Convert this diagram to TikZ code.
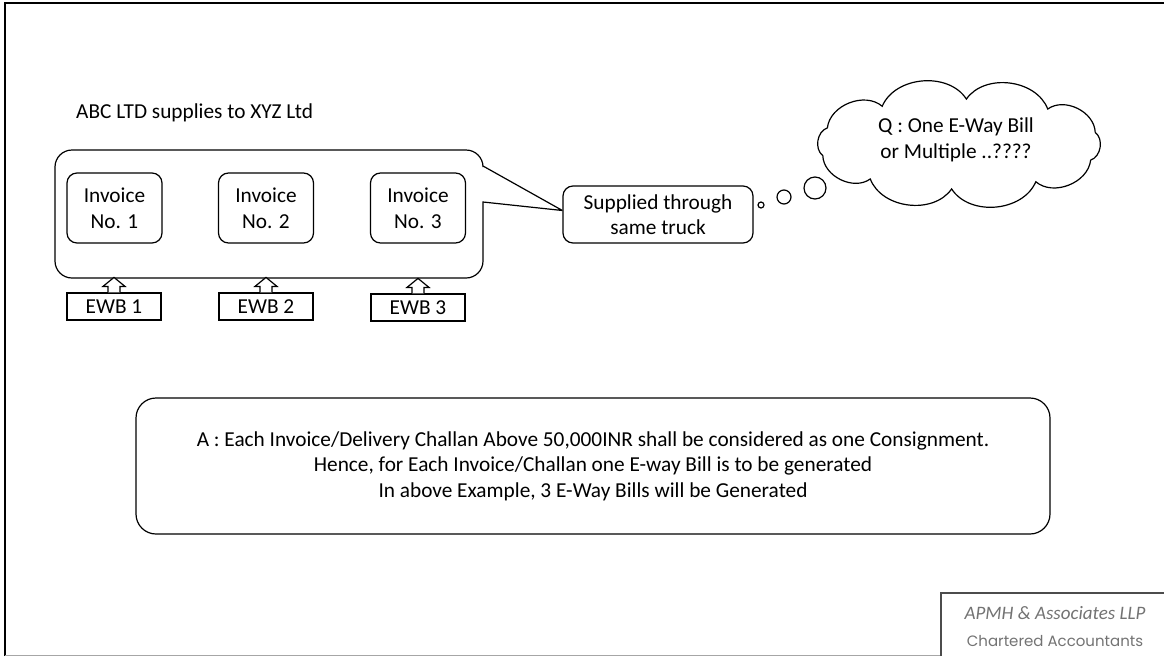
\documentclass[tikz,border=0pt]{standalone}
\usepackage{fontspec}
\setmainfont{Carlito}
\newfontfamily\logofont{Poppins}
\usetikzlibrary{calc}

\tikzset{
  base/.style={font=\fontsize{21.3}{25.6}\selectfont, align=center, inner sep=0pt},
  ln/.style={line width=1.2pt, black},
  invbox/.style={base, ln, draw, rounded corners=10pt, minimum width=95pt, minimum height=70pt},
  ewbbox/.style={base, ln, draw, minimum width=94pt, minimum height=27pt},
  bubble/.style={ln, draw, circle, inner sep=0pt},
}

% hollow block arrow from an EWB box up to the group frame
\newcommand\ewbarrow[1]{%
  \draw[ln, fill=white, line join=miter]
    ($(#1.north)+(-6,0)$) -- ++(0,-6) -- ++(-5,0) -- ($(#1.north)+(0,-15)$)
    -- ($(#1.north)+(11,-6)$) -- ++(-5,0) -- ($(#1.north)+(6,0)$);
}

\begin{document}
\begin{tikzpicture}[x=1pt, y=-1pt]
  \useasboundingbox (0,0) rectangle (1164,656);
  \fill[white] (0,0) rectangle (1164,656);

  % page frame
  \draw[line width=2.8pt, black] (5,656) -- (5,3) -- (1164,3);
  \draw[line width=1pt, black!35] (5,655.5) -- (941,655.5);

  % heading
  \node[base, anchor=west] (title) at (76,113) {ABC LTD supplies to XYZ Ltd};

  % invoices and their e-way bills
  \node[invbox] (inv1) at (114.5,208) {Invoice\\No. 1};
  \node[invbox] (inv2) at (266,208) {Invoice\\No. 2};
  \node[invbox] (inv3) at (418,208) {Invoice\\No. 3};

  \node[ewbbox] (ewb1) at (114,306.5) {EWB 1};
  \node[ewbbox] (ewb2) at (266,306.5) {EWB 2};
  \node[ewbbox] (ewb3) at (418,307.5) {EWB 3};

  \node[base, ln, draw, rounded corners=10pt, minimum width=190pt, minimum height=57pt]
    (sup) at (658,214.5) {Supplied through\\same truck};

  % group frame with its pointer to the truck box
  \coordinate (tip) at ($(sup.west)+(0,-4)$);
  \draw[ln, line join=miter] (tip) -- (483,166)
    [rounded corners=17pt] -- (483,150) -- (55,150) -- (55,278) -- (483,278)
    [sharp corners] -- (483,202) -- (tip);

  \ewbarrow{ewb1}
  \ewbarrow{ewb2}
  \ewbarrow{ewb3}

  % thought bubbles and cloud
  \node[bubble, minimum size=6pt] (b1) at (761,205) {};
  \node[bubble, minimum size=14pt] (b2) at (784,197) {};
  \node[bubble, minimum size=22pt] (b3) at (815,188) {};

  \node[base] (q) at (956,140) {Q : One E-Way Bill\\or Multiple ..????};
  \foreach \k in {0,...,10}
    \coordinate (c\k) at ($(959,144)+({141*cos(15+36*\k)},{-45*sin(15+36*\k)})$);
  \draw[ln] (c0) \foreach \k in {1,...,10} { to[bend right=62] (c\k) };

  % answer
  \node[base, ln, draw, rounded corners=20pt, minimum width=914pt, minimum height=136pt]
    (ans) at (593,466)
    {A : Each Invoice/Delivery Challan Above 50,000INR shall be considered as one Consignment.\\
     Hence, for Each Invoice/Challan one E-way Bill is to be generated\\
     In above Example, 3 E-Way Bills will be Generated};

  % firm stamp
  \draw[line width=1.2pt, black!70] (941,656) -- (941,593) -- (1164,593);
  \node[base, text=black!55, font=\fontsize{19}{20}\selectfont\itshape] (firm) at (1055,613)
    {APMH \& Associates LLP};
  \node[base, text=black!55, font=\logofont\fontsize{15}{18}\selectfont] (ca) at (1055,641)
    {Chartered Accountants};
\end{tikzpicture}
\end{document}
